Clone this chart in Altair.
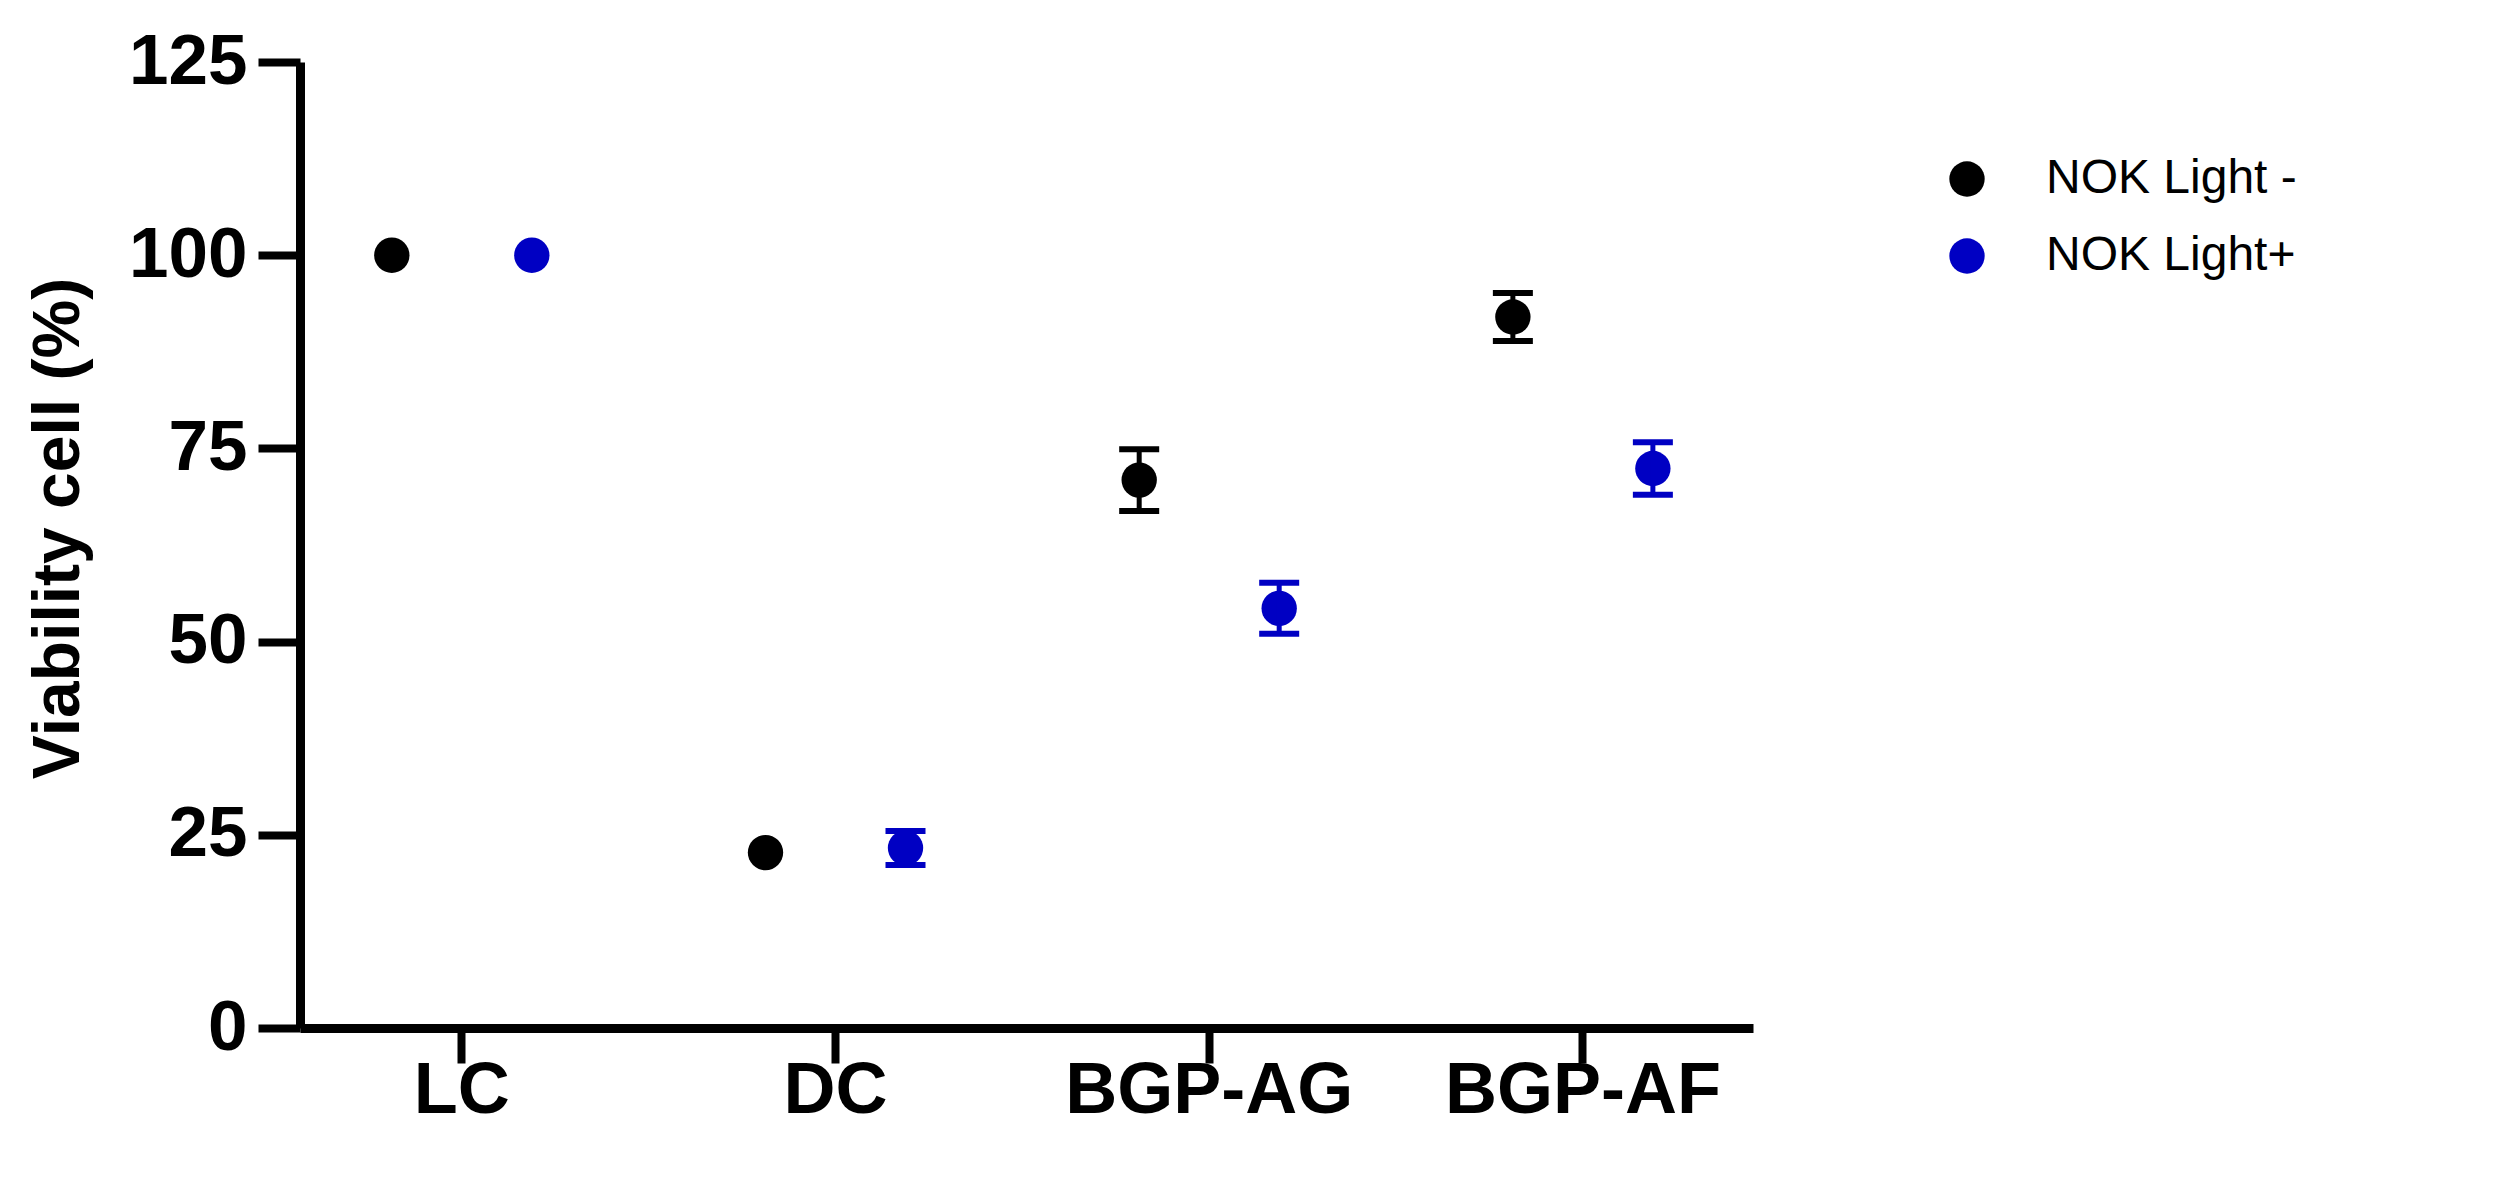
import altair as alt
import pandas as pd

categories = ["LC", "DC", "BGP-AG", "BGP-AF"]
groups = ["NOK Light -", "NOK Light+"]
mean_light_minus = [100.0, 22.7, 70.9, 92.0]
sd_light_minus = [0.0, 0.0, 4.0, 3.1]
mean_light_plus = [100.0, 23.3, 54.3, 72.4]
sd_light_plus = [0.0, 2.2, 3.3, 3.4]
colors = ["#000000", "#0000C3"]
y_ticks = [0, 25, 50, 75, 100, 125]

rows = []
for g, means, sds in [(groups[0], mean_light_minus, sd_light_minus),
                      (groups[1], mean_light_plus, sd_light_plus)]:
    for c, m, s in zip(categories, means, sds):
        rows.append({"category": c, "group": g, "mean": m,
                     "lo": m - s, "hi": m + s, "sd": s})
df = pd.DataFrame(rows)

FONT = "Liberation Sans, Arial"

x_axis = alt.Axis(title=None, labelFont=FONT, labelFontSize=72, labelFontWeight="bold",
                  labelColor="black", labelPadding=-8, tickSize=35, tickWidth=8,
                  tickColor="black", domainColor="black", domainWidth=9,
                  labelAngle=0, labelLimit=0, grid=False)
x_scale = alt.Scale(domain=categories, paddingInner=0.2507, paddingOuter=0.0695, align=0.42)

y_axis = alt.Axis(values=y_ticks, title="Viability cell (%)", titleFont=FONT,
                  titleFontSize=66, titleFontWeight="bold", titleColor="black",
                  titleX=-242, titleY=466, titleAngle=270, titleAlign="center",
                  titleBaseline="middle",
                  labelFont=FONT, labelFontSize=71, labelFontWeight="bold",
                  labelColor="black", labelPadding=11, tickSize=42, tickWidth=8,
                  tickColor="black", domainColor="black", domainWidth=9,
                  labelLimit=0, grid=False)
y_scale = alt.Scale(domain=[0, 125], nice=False, zero=True)

xoff = alt.XOffset("group:N", scale=alt.Scale(domain=groups))
color_nolegend = alt.Color("group:N", scale=alt.Scale(domain=groups, range=colors), legend=None)
color_legend = alt.Color("group:N", scale=alt.Scale(domain=groups, range=colors),
                         legend=alt.Legend(title=None, orient="none", legendX=1643, legendY=93,
                                           labelFont=FONT, labelFontSize=48,
                                           labelColor="black", symbolSize=1250,
                                           symbolType="circle", symbolStrokeWidth=0,
                                           labelOffset=55, rowPadding=29, labelLimit=0))

base = alt.Chart(df)
err = base.transform_filter("datum.sd > 0")

bars = err.mark_rule(strokeWidth=5).encode(
    x=alt.X("category:N", scale=x_scale, axis=x_axis),
    xOffset=xoff,
    y=alt.Y("lo:Q", scale=y_scale, axis=y_axis),
    y2="hi:Q",
    color=color_nolegend,
)
cap_lo = err.mark_tick(size=40, thickness=6, opacity=1).encode(
    x=alt.X("category:N", scale=x_scale, axis=x_axis),
    xOffset=xoff,
    y=alt.Y("lo:Q", scale=y_scale, axis=y_axis),
    color=color_nolegend,
)
cap_hi = err.mark_tick(size=40, thickness=6, opacity=1).encode(
    x=alt.X("category:N", scale=x_scale, axis=x_axis),
    xOffset=xoff,
    y=alt.Y("hi:Q", scale=y_scale, axis=y_axis),
    color=color_nolegend,
)
points = base.mark_point(filled=True, size=1250, opacity=1, shape="circle").encode(
    x=alt.X("category:N", scale=x_scale, axis=x_axis),
    xOffset=xoff,
    y=alt.Y("mean:Q", scale=y_scale, axis=y_axis),
    color=color_legend,
)

chart = alt.layer(points, bars, cap_lo, cap_hi).properties(
    width=1453, height=966,
    autosize=alt.AutoSizeParams(type="none"),
    padding={"left": 292, "top": 54, "right": 740, "bottom": 134},
    background="white",
).configure_view(stroke=None)

chart.save("out.html", embed_options={"renderer": "svg", "actions": False})
